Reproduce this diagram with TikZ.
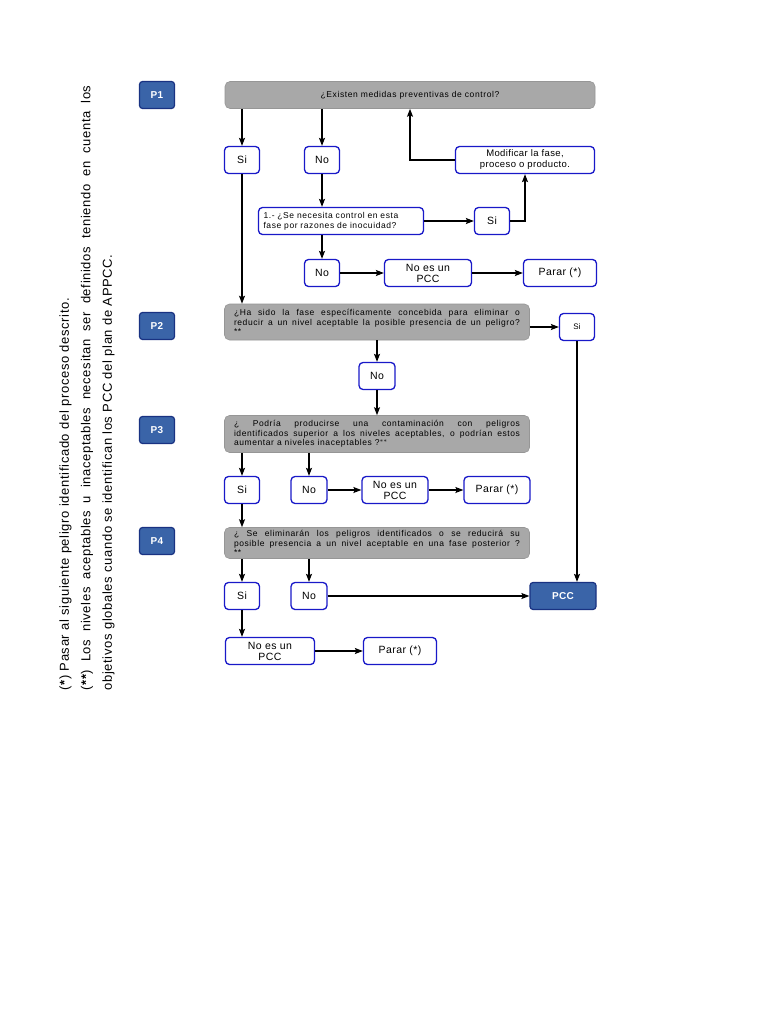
\documentclass[tikz,border=0pt]{standalone}
\usepackage{fontspec}
\setmainfont{Liberation Sans}
\newfontfamily\lsfont[LetterSpace=7]{Liberation Sans}
\newfontfamily\lsfontb[LetterSpace=4]{Liberation Sans}
\newfontfamily\notafont[LetterSpace=5]{Liberation Sans}
\usetikzlibrary{shapes.geometric, arrows, arrows.meta, positioning}
\definecolor{grisq}{RGB}{168,168,168}
\definecolor{grisborde}{RGB}{150,150,150}
\definecolor{azulborde}{RGB}{25,25,200}
\definecolor{azulp}{RGB}{58,100,168}
\definecolor{azulpborde}{RGB}{25,50,130}

\begin{document}
\begin{tikzpicture}[x=1pt, y=-1pt,
  pbox/.style={rectangle, rounded corners=3pt, draw=azulpborde, fill=azulp, line width=1.2pt, text=white, font=\lsfontb\fontsize{10}{11}\selectfont\bfseries, minimum width=35pt, minimum height=27pt},
  qbox/.style={rectangle, rounded corners=5pt, draw=grisborde, fill=grisq, line width=0.6pt, font=\lsfont\fontsize{8.5}{9.5}\selectfont, minimum width=305pt, inner sep=0pt},
  rbox/.style={rectangle, rounded corners=4pt, draw=azulborde, fill=white, line width=1.3pt, font=\lsfontb\fontsize{10.5}{11}\selectfont, minimum height=27pt, inner sep=1pt, align=center},
  flecha/.style={-{Stealth[length=8pt, width=6pt, inset=1.5pt]}, line width=1.2pt}]
\useasboundingbox[fill=white] (0,0) rectangle (768,1024);

% notas
\node[rotate=90, text width=605pt, align=justify, font=\notafont\fontsize{13}{21.5}\selectfont] (notas) at (87,388)
  {(\textbf{*}) Pasar al siguiente peligro identificado del proceso descrito.\\
   (\textbf{**}) Los niveles aceptables u inaceptables necesitan ser definidos teniendo en cuenta los\linebreak objetivos globales cuando se identifican los PCC del plan de APPCC.};

% P1
\node[pbox] (p1) at (157,95) {P1};
\node[qbox, minimum width=370pt, minimum height=27pt] (q1) at (410,95) {¿Existen medidas preventivas de control?};
\node[rbox, minimum width=35pt] (si1) at (242,160) {Si};
\node[rbox, minimum width=35pt] (no1) at (322,160) {No};
\node[rbox, minimum width=139pt, font=\lsfontb\fontsize{9.5}{11}\selectfont] (modif) at (525,160) {Modificar la fase,\\proceso o producto.};
\node[rbox, minimum width=165pt, text width=155pt, align=left, font=\lsfont\fontsize{8.5}{10}\selectfont] (p11) at (341,221) {1.- ¿Se necesita control en esta\\fase por razones de inocuidad?};
\node[rbox, minimum width=35pt] (si2) at (492,221) {Si};
\node[rbox, minimum width=35pt] (no2) at (322,273) {No};
\node[rbox, minimum width=87pt] (nopcc1) at (428,273) {No es un\\PCC};
\node[rbox, minimum width=73pt] (parar1) at (560,273) {Parar (*)};

% P2
\node[pbox] (p2) at (157,326) {P2};
\node[qbox, minimum height=36pt, text width=286pt, align=justify] (q2) at (377,322)
  {¿Ha sido la fase específicamente concebida para eliminar o\linebreak reducir a un nivel aceptable la posible presencia de un peligro?\linebreak **};
\node[rbox, minimum width=35pt, font=\lsfontb\fontsize{8}{9}\selectfont] (si3) at (577,327) {Si};
\node[rbox, minimum width=36pt] (no3) at (377,376) {No};

% P3
\node[pbox] (p3) at (157,430) {P3};
\node[qbox, minimum height=37pt, text width=286pt, align=justify] (q3) at (377,434)
  {¿ Podría producirse una contaminación con peligros\linebreak identificados superior a los niveles aceptables, o podrían estos\linebreak aumentar a niveles inaceptables ?$^{**}$};
\node[rbox, minimum width=35pt] (si4) at (242,490) {Si};
\node[rbox, minimum width=36pt] (no4) at (309,490) {No};
\node[rbox, minimum width=66pt] (nopcc2) at (395,490) {No es un\\PCC};
\node[rbox, minimum width=66pt] (parar2) at (497,490) {Parar (*)};

% P4
\node[pbox] (p4) at (157,541) {P4};
\node[qbox, minimum height=31pt, text width=286pt, align=justify] (q4) at (377,543)
  {¿ Se eliminarán los peligros identificados o se reducirá su\linebreak posible presencia a un nivel aceptable en una fase posterior ?\linebreak **};
\node[rbox, minimum width=35pt] (si5) at (242,596) {Si};
\node[rbox, minimum width=36pt] (no5) at (309,596) {No};
\node[pbox, minimum width=66pt] (pcc) at (563,596) {PCC};
\node[rbox, minimum width=89pt] (nopcc3) at (270,651) {No es un\\PCC};
\node[rbox, minimum width=73pt] (parar3) at (400,651) {Parar (*)};

% conectores
\draw[flecha] (q1.south -| si1) -- (si1);
\draw[flecha] (q1.south -| no1) -- (no1);
\draw[flecha] (si1) -- (si1 |- q2.north);
\draw[flecha] (no1) -- (no1 |- p11.north);
\draw[flecha] (p11.east) -- (si2.west);
\draw[flecha] (si2.east) -| (modif.south);
\draw[flecha] (modif.west) -| (q1.south);
\draw[flecha] (no1 |- p11.south) -- (no2);
\draw[flecha] (no2) -- (nopcc1);
\draw[flecha] (nopcc1) -- (parar1);
\draw[flecha] (q2.east |- si3) -- (si3.west);
\draw[flecha] (q2.south) -- (no3);
\draw[flecha] (no3) -- (q3.north);
\draw[flecha] (si3) -- (si3 |- pcc.north);
\draw[flecha] (q3.south -| si4) -- (si4);
\draw[flecha] (q3.south -| no4) -- (no4);
\draw[flecha] (no4) -- (nopcc2);
\draw[flecha] (nopcc2) -- (parar2);
\draw[flecha] (si4) -- (si4 |- q4.north);
\draw[flecha] (q4.south -| si5) -- (si5);
\draw[flecha] (q4.south -| no5) -- (no5);
\draw[flecha] (no5) -- (pcc);
\draw[flecha] (si5) -- (si5 |- nopcc3.north);
\draw[flecha] (nopcc3) -- (parar3);
\end{tikzpicture}
\end{document}
